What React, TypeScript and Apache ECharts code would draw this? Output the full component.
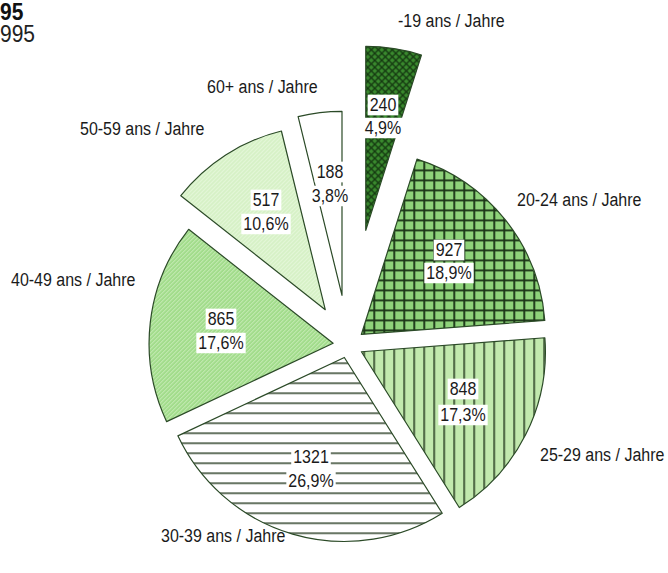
import React, { useEffect, useRef } from "react";
import * as echarts from "echarts";

// ---------- data ----------
const categories = [
  "-19 ans / Jahre",
  "20-24 ans / Jahre",
  "25-29 ans / Jahre",
  "30-39 ans / Jahre",
  "40-49 ans / Jahre",
  "50-59 ans / Jahre",
  "60+ ans / Jahre",
];
const values = [240, 927, 848, 1321, 865, 517, 188];
const percentLabels = ["4,9%", "18,9%", "17,3%", "26,9%", "17,6%", "10,6%", "3,8%"];
const titleFragments = ["95", "995"];

// ---------- layout / style ----------
const CENTER = [348, 345];
const RADIUS = 184;
const EXPLODE = [116, 17, 15, 13, 15, 42, 50];
// [x, yValue, yPercent]
const INNER_POS = [
  [383, 105, 128],
  [449, 250, 273],
  [463, 389, 415],
  [311, 457, 481],
  [221, 319, 343],
  [266, 200, 224],
  [330, 172, 196],
];
// [x, y, align]
const OUTER_POS: [number, number, string][] = [
  [398, 21, "left"],
  [517, 200, "left"],
  [540, 455, "left"],
  [161, 536, "left"],
  [11, 280, "left"],
  [80, 129, "left"],
  [207, 87, "left"],
];
const FONT = '"Liberation Sans", Arial, sans-serif';
const BORDER = "#2b4a27";

function makeTile(size: number, draw: (c: CanvasRenderingContext2D) => void) {
  const cv = document.createElement("canvas");
  cv.width = size;
  cv.height = size;
  const ctx = cv.getContext("2d")!;
  draw(ctx);
  return { image: cv, repeat: "repeat", imageWidth: size, imageHeight: size } as any;
}

function buildPatterns() {
  const cross = makeTile(7, (c) => {
    c.fillStyle = "#3a8a2e";
    c.fillRect(0, 0, 7, 7);
    c.strokeStyle = "#153811";
    c.lineWidth = 1.3;
    c.beginPath();
    c.moveTo(0, 0);
    c.lineTo(7, 7);
    c.moveTo(7, 0);
    c.lineTo(0, 7);
    c.stroke();
  });
  const grid = makeTile(10, (c) => {
    c.fillStyle = "#8ed27a";
    c.fillRect(0, 0, 10, 10);
    c.fillStyle = "#1c3618";
    c.fillRect(0, 0, 10, 1.9);
    c.fillRect(0, 0, 1.9, 10);
  });
  const vert = makeTile(10, (c) => {
    c.fillStyle = "#c2e9ae";
    c.fillRect(0, 0, 10, 10);
    c.fillStyle = "#25391f";
    c.fillRect(0, 0, 1.5, 10);
  });
  const horiz = makeTile(10, (c) => {
    c.fillStyle = "#ffffff";
    c.fillRect(0, 0, 10, 10);
    c.fillStyle = "#25391f";
    c.fillRect(0, 0, 10, 1.4);
  });
  const diag = (bg: string, fg: string) =>
    makeTile(4, (c) => {
      c.fillStyle = bg;
      c.fillRect(0, 0, 4, 4);
      c.strokeStyle = fg;
      c.lineWidth = 0.9;
      c.beginPath();
      c.moveTo(-1, 5);
      c.lineTo(5, -1);
      c.moveTo(-1, 1);
      c.lineTo(1, -1);
      c.moveTo(3, 5);
      c.lineTo(5, 3);
      c.stroke();
    });
  return [
    cross,
    grid,
    vert,
    horiz,
    diag("#a2dc8c", "#d2f0c4"),
    diag("#d6f1c6", "#ecf9e4"),
    "#ffffff",
  ];
}

export default function App() {
  const ref = useRef<HTMLDivElement>(null);
  useEffect(() => {
    if (!ref.current) return;
    const chart = echarts.init(ref.current, undefined, { renderer: "svg" });
    const patterns = buildPatterns();

    const series = values.map((_, i) => ({
      type: "pie",
      center: CENTER,
      radius: RADIUS,
      startAngle: 90,
      clockwise: true,
      selectedMode: "single",
      selectedOffset: EXPLODE[i],
      silent: true,
      avoidLabelOverlap: false,
      label: { show: false },
      labelLine: { show: false },
      emphasis: { disabled: true },
      z: 2,
      data: values.map((v, j) => ({
        value: v,
        name: categories[j],
        selected: j === i,
        itemStyle:
          j === i
            ? { color: patterns[i], borderColor: BORDER, borderWidth: 1.2 }
            : { color: "rgba(0,0,0,0)", borderWidth: 0 },
      })),
    }));

    const graphics: any[] = [];
    values.forEach((v, i) => {
      const [x, y1, y2] = INNER_POS[i];
      [
        [String(v), y1],
        [percentLabels[i], y2],
      ].forEach(([t, y]) => {
        graphics.push({
          type: "text",
          x,
          y: y as number,
          scaleY: 1.15,
          z: 10,
          style: {
            text: t as string,
            fill: "#1a1a1a",
            font: `16px ${FONT}`,
            align: "center",
            verticalAlign: "middle",
            backgroundColor: "#ffffff",
            padding: [1, 2],
          },
        });
      });
    });
    categories.forEach((c, i) => {
      const [x, y, align] = OUTER_POS[i];
      graphics.push({
        type: "text",
        x,
        y,
        scaleY: 1.1,
        z: 10,
        style: {
          text: c,
          fill: "#1a1a1a",
          font: `16px ${FONT}`,
          align,
          verticalAlign: "middle",
        },
      });
    });
    graphics.push({
      type: "text",
      x: 0,
      y: 12,
      scaleY: 1.15,
      style: { text: titleFragments[0], fill: "#111", font: `bold 21px ${FONT}`, align: "left", verticalAlign: "middle" },
    });
    graphics.push({
      type: "text",
      x: 0,
      y: 34,
      scaleY: 1.15,
      style: { text: titleFragments[1], fill: "#222", font: `21px ${FONT}`, align: "left", verticalAlign: "middle" },
    });

    chart.setOption({
      animation: false,
      backgroundColor: "#ffffff",
      series,
      graphic: graphics,
    } as any);
    return () => chart.dispose();
  }, []);
  return (
    <div
      ref={ref}
      style={{ position: "absolute", left: 0, top: 0, width: 668, height: 573 }}
    />
  );
}
